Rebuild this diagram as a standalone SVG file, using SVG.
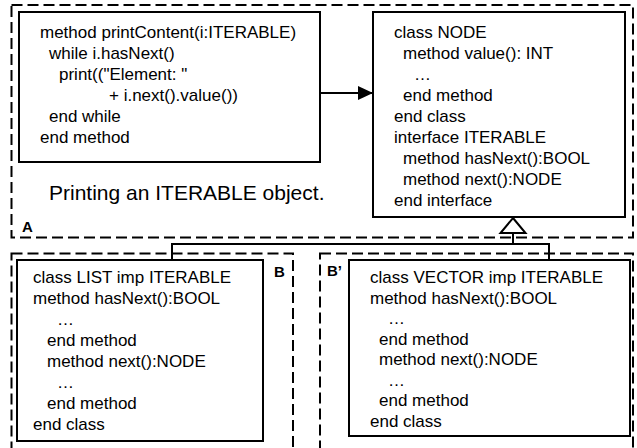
<svg xmlns="http://www.w3.org/2000/svg" width="637" height="448" viewBox="0 0 637 448">
<defs>
<style>
.dash{fill:none;stroke:#000;stroke-width:2;stroke-dasharray:11 5}
.box{fill:#fff;stroke:#000;stroke-width:2}
.t{font-family:"Liberation Sans",Arial,sans-serif;font-size:17px;fill:#000}
.cap{font-family:"Liberation Sans",Arial,sans-serif;font-size:21px;fill:#000}
.lbl{font-family:"Liberation Sans",Arial,sans-serif;font-size:15px;font-weight:bold;fill:#000}
.ln{fill:none;stroke:#000;stroke-width:2}
</style>
<marker id="arr" markerWidth="16" markerHeight="14" refX="15" refY="7" orient="auto" markerUnits="userSpaceOnUse">
<path d="M0,0 L15,7 L0,14 Z" fill="#000"/>
</marker>
</defs>
<rect width="637" height="448" fill="#fff"/>
<g id="groupA">
<rect class="dash" x="11.5" y="5" width="621.5" height="232.5"/>
<text class="lbl" x="22" y="232">A</text>
<text class="cap" x="49" y="200">Printing an ITERABLE object.</text>
</g>
<g id="groupB">
<rect class="dash" x="11.5" y="253.5" width="281.5" height="210"/>
<text class="lbl" x="274" y="277">B</text>
</g>
<g id="groupB2">
<rect class="dash" x="320" y="253.5" width="313" height="210"/>
<text class="lbl" x="327" y="276">B’</text>
</g>
<g id="connectors">
<line class="ln" x1="320" y1="93" x2="373" y2="93" marker-end="url(#arr)"/>
<path class="ln" d="M513,233 V244 M172,260 V244 H549 V260"/>
<path d="M513,218 L525.5,233 L500.5,233 Z" fill="#fff" stroke="#000" stroke-width="2"/>
</g>
<g id="printContent">
<rect class="box" x="19" y="12" width="301" height="150"/>
<text class="t" x="40" y="38">method printContent(i:ITERABLE)</text>
<text class="t" x="49" y="59">while i.hasNext()</text>
<text class="t" x="59" y="80">print(("Element: "</text>
<text class="t" x="109" y="101">+ i.next().value())</text>
<text class="t" x="49" y="122">end while</text>
<text class="t" x="40" y="143">end method</text>
</g>
<g id="nodeIterable">
<rect class="box" x="373" y="12" width="252" height="205"/>
<text class="t" x="394" y="38">class NODE</text>
<text class="t" x="403" y="59">method value(): INT</text>
<text class="t" x="414" y="80">…</text>
<text class="t" x="403" y="101">end method</text>
<text class="t" x="394" y="122">end class</text>
<text class="t" x="394" y="143">interface ITERABLE</text>
<text class="t" x="403" y="164">method hasNext():BOOL</text>
<text class="t" x="403" y="185">method next():NODE</text>
<text class="t" x="394" y="206">end interface</text>
</g>
<g id="list">
<rect class="box" x="17" y="260" width="246" height="181"/>
<text class="t" x="33" y="283">class LIST imp ITERABLE</text>
<text class="t" x="33" y="304">method hasNext():BOOL</text>
<text class="t" x="57" y="325">…</text>
<text class="t" x="47" y="346">end method</text>
<text class="t" x="47" y="367">method next():NODE</text>
<text class="t" x="57" y="388">…</text>
<text class="t" x="47" y="409">end method</text>
<text class="t" x="33" y="430">end class</text>
</g>
<g id="vector">
<rect class="box" x="349" y="260" width="281" height="176"/>
<text class="t" x="370" y="283">class VECTOR imp ITERABLE</text>
<text class="t" x="370" y="303.5">method hasNext():BOOL</text>
<text class="t" x="388" y="324">…</text>
<text class="t" x="379" y="344.5">end method</text>
<text class="t" x="379" y="365">method next():NODE</text>
<text class="t" x="388" y="385.5">…</text>
<text class="t" x="379" y="406">end method</text>
<text class="t" x="370" y="426.5">end class</text>
</g>
</svg>
